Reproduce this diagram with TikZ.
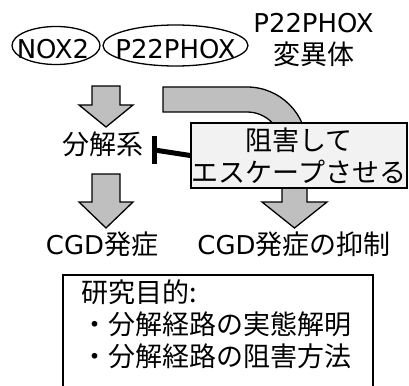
\documentclass[tikz,border=0pt]{standalone}
\usepackage{fontspec}
\setmainfont{Noto Sans CJK JP}
\newfontfamily\lat{DejaVu Sans}[Scale=0.96]
\usetikzlibrary{shapes.geometric}
\begin{document}
\begin{tikzpicture}[x=1pt,y=1pt,
  every node/.style={inner sep=0pt, font=\fontsize{27}{32}\selectfont},
  ell/.style={draw, ellipse, line width=1.3pt},
  blockarrow/.style={draw=black, fill=gray!50, line width=1.3pt, line join=miter},
  escbox/.style={draw, fill=black!5, line width=1.5pt, minimum width=216pt, minimum height=65pt, align=center},
  inhib/.style={line width=5pt},
  goalbox/.style={line width=1.5pt}]
\useasboundingbox (0,0) rectangle (409,-385);
% ellipses
\node[ell, minimum width=88pt, minimum height=38pt] (nox) at (56,-45.5) {};
\node[ell, minimum width=145pt, minimum height=41pt] (phox) at (175.5,-45.5) {};
\node (noxt) at (53,-49.5) {\lat NOX2};
\node (phoxt) at (175.5,-49.5) {\lat P22PHOX};
\node[align=center] (mut) at (313.5,-40.5) {{\lat P22PHOX}\\変異体};
% left arrows
\draw[blockarrow] (92,-86) -- (120,-86) -- (120,-105) -- (133,-105) -- (106,-127) -- (79,-105) -- (92,-105) -- cycle;
\node (deg) at (102.5,-144) {分解系};
\draw[blockarrow] (92,-174) -- (120,-174) -- (120,-202) -- (133,-202) -- (106,-228) -- (79,-202) -- (92,-202) -- cycle;
\node (cgd) at (102,-244) {{\lat CGD}発症};
% curved arrow
\draw[blockarrow] (163,-87) -- (247,-87) arc[start angle=90, end angle=0, radius=60]
  -- (307,-202) -- (327,-202) -- (294.5,-228) -- (262,-202) -- (282,-202) -- (282,-147)
  arc[start angle=0, end angle=90, radius=35] -- (163,-112) -- cycle;
\node[escbox] (esc) at (299,-155.5) {阻害して\\エスケープさせる};
\node (sup) at (294,-244) {{\lat CGD}発症の抑制};
% inhibition
\coordinate (inh) at (154.5,-150);
\draw[inhib] (esc.west) -- (inh);
\draw[inhib] ([yshift=14pt]inh) -- ([yshift=-14pt]inh);
% goal box
\node[anchor=west, align=left] (goal) at (81,-324.5) {研究目的:\\・分解経路の実態解明\\・分解経路の阻害方法};
\draw[goalbox] (63,-386) -- (63,-275) -- (373,-275) -- (373,-386);
\end{tikzpicture}
\end{document}
